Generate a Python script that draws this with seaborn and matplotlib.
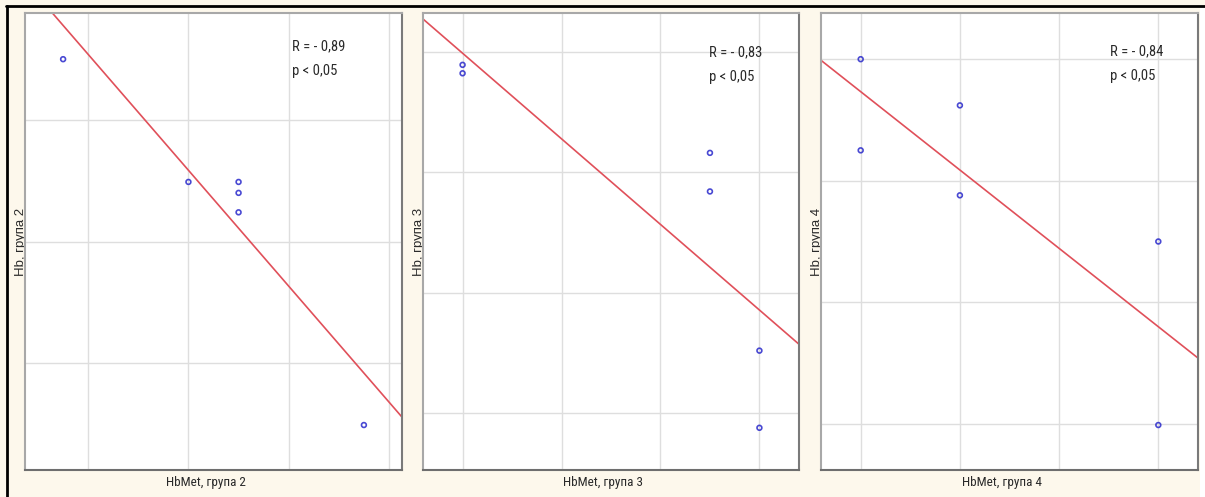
import numpy as np
import matplotlib
matplotlib.use('Agg')
import matplotlib.pyplot as plt
from matplotlib import font_manager
from matplotlib.lines import Line2D
from matplotlib.patches import Rectangle
import seaborn as sns

# values (grid units, no tick labels in the original)
hbmet_2 = [0.75, 2.0, 2.5, 2.5, 2.5, 3.75]
hb_2 = [3.50, 2.49, 2.49, 2.40, 2.24, 0.49]

hbmet_3 = [1.0, 1.0, 3.5, 3.5, 4.0, 4.0]
hb_3 = [3.89, 3.82, 3.16, 2.84, 1.52, 0.88]

hbmet_4 = [1.0, 1.0, 2.0, 2.0, 4.0, 4.0]
hb_4 = [4.00, 3.25, 3.62, 2.88, 2.50, 0.99]

groups = ['2', '3', '4']
r_labels = ['R = - 0,89', 'R = - 0,83', 'R = - 0,84']
p_label = 'p < 0,05'
x_ticks = [1, 2, 3, 4]
y_ticks = [[1, 2, 3], [1, 2, 3, 4], [1, 2, 3, 4]]
x_lims = [(0.37, 4.13), (0.60, 4.40), (0.60, 4.40)]
y_lims = [(0.12, 3.88), (0.53, 4.32), (0.62, 4.38)]

xs = [hbmet_2, hbmet_3, hbmet_4]
ys = [hb_2, hb_3, hb_4]

sns.set_style('white')
plt.rcParams['font.family'] = ['Liberation Sans', 'DejaVu Sans']

# the original uses a narrow face; take one if there is any
names = sorted({f.name for f in font_manager.fontManager.ttflist})
narrow = None
for cand in ['Liberation Sans Narrow', 'Arial Narrow', 'Roboto Condensed',
             'Open Sans Condensed', 'DejaVu Sans Condensed', 'Noto Sans Condensed']:
    if cand in names:
        narrow = cand
        break
if narrow is None:
    for n in names:
        if 'Narrow' in n or 'Condensed' in n:
            narrow = n
            break
narrow_fam = ([narrow] if narrow else []) + ['Liberation Sans', 'DejaVu Sans']
note_size = 10.5 if narrow else 9.5
xl_size = 9.5 if narrow else 8.5

W, H = 1205, 497
fig = plt.figure(figsize=(W / 100, H / 100), dpi=100)
fig.patch.set_facecolor('#fdf8ec')

lefts = [25, 423, 821]
widths = [377, 376, 377]
text_x = [0.707, 0.761, 0.767]
text_y = [0.928, 0.913, 0.917]

for i in range(3):
    ax = fig.add_axes([lefts[i] / W, 27 / H, widths[i] / W, 457 / H])
    ax.set_facecolor('white')
    ax.set_xlim(*x_lims[i])
    ax.set_ylim(*y_lims[i])
    ax.set_xticks(x_ticks)
    ax.set_yticks(y_ticks[i])
    ax.grid(True, color='#dedede', linewidth=1)
    ax.set_axisbelow(True)

    sns.regplot(x=xs[i], y=ys[i], ax=ax, ci=None, truncate=False,
                marker='o',
                scatter_kws={'s': 12, 'facecolors': 'none',
                             'edgecolors': '#1c1cc8', 'linewidths': 1.2},
                line_kws={'color': '#e0505a', 'linewidth': 1.2})
    ax.set_xlim(*x_lims[i])
    ax.set_ylim(*y_lims[i])

    ax.tick_params(length=0, labelbottom=False, labelleft=False)
    for side, col in [('left', '#a8a8a8'), ('top', '#a8a8a8'),
                      ('bottom', '#6e6e6e'), ('right', '#7a7a7a')]:
        ax.spines[side].set_visible(True)
        ax.spines[side].set_color(col)
        ax.spines[side].set_linewidth(1.5)

    ax.set_xlabel('HbMet, група ' + groups[i], fontsize=xl_size,
                  family=narrow_fam, color='#2a2a2a')
    ax.xaxis.set_label_coords(0.48, -0.013)
    ax.set_ylabel('Hb, група ' + groups[i], fontsize=9.5, color='#2a2a2a')
    ax.yaxis.set_label_coords(0.004, 0.5)

    ax.text(text_x[i], text_y[i], r_labels[i], transform=ax.transAxes,
            fontsize=note_size, va='center', ha='left', color='#2a2a2a',
            family=narrow_fam)
    ax.text(text_x[i], text_y[i] - 0.054, p_label, transform=ax.transAxes,
            fontsize=note_size, va='center', ha='left', color='#2a2a2a',
            family=narrow_fam)

# outer frame of the screenshot (top and left edges only)
fig.add_artist(Rectangle((1200 / W, 0), 5 / W, 1 - 6 / H, transform=fig.transFigure,
                         facecolor='white', edgecolor='none'))
fig.add_artist(Line2D([6 / W, 1], [1 - 6 / H, 1 - 6 / H], color='black',
                      linewidth=2, transform=fig.transFigure))
fig.add_artist(Line2D([7 / W, 7 / W], [0, 1 - 6 / H], color='black',
                      linewidth=2, transform=fig.transFigure))

fig.savefig('out.png', dpi=100, facecolor=fig.get_facecolor())
